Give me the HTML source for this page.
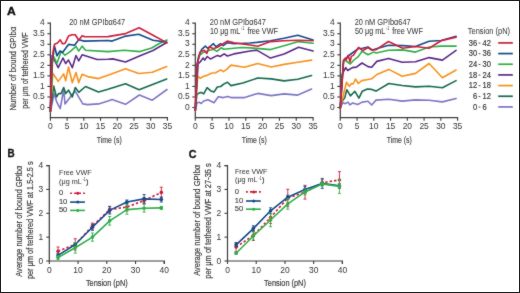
<!DOCTYPE html>
<html><head><meta charset="utf-8"><style>
html,body{margin:0;padding:0;background:#fff;overflow:hidden;}
svg{display:block;font-family:"Liberation Sans", sans-serif;will-change:transform;}
</style></head><body>
<svg width="520" height="293" viewBox="0 0 520 293">
<defs><filter id="soft" x="-2%" y="-2%" width="104%" height="104%"><feConvolveMatrix order="3" kernelMatrix="0.025 0.05 0.025 0.05 0.7 0.05 0.025 0.05 0.025" preserveAlpha="false"/></filter></defs>
<rect x="0" y="0" width="520" height="293" fill="#fff"/>
<g filter="url(#soft)">
<path d="M47.4,23.22 H50.4 V117.6 H167.4 V120.8" fill="none" stroke="#3c3c3c" stroke-width="1.2"/>
<line x1="47.4" y1="107.50" x2="50.4" y2="107.50" stroke="#3c3c3c" stroke-width="1.1"/>
<line x1="47.4" y1="96.97" x2="50.4" y2="96.97" stroke="#3c3c3c" stroke-width="1.1"/>
<line x1="47.4" y1="86.43" x2="50.4" y2="86.43" stroke="#3c3c3c" stroke-width="1.1"/>
<line x1="47.4" y1="75.89" x2="50.4" y2="75.89" stroke="#3c3c3c" stroke-width="1.1"/>
<line x1="47.4" y1="65.36" x2="50.4" y2="65.36" stroke="#3c3c3c" stroke-width="1.1"/>
<line x1="47.4" y1="54.83" x2="50.4" y2="54.83" stroke="#3c3c3c" stroke-width="1.1"/>
<line x1="47.4" y1="44.29" x2="50.4" y2="44.29" stroke="#3c3c3c" stroke-width="1.1"/>
<line x1="47.4" y1="33.75" x2="50.4" y2="33.75" stroke="#3c3c3c" stroke-width="1.1"/>
<g transform="translate(44.699999999999996,109.7) scale(0.97,1)"><text x="0" y="0" font-size="8.7" text-anchor="end" fill="#3c3c3c" font-weight="normal" stroke="#3c3c3c" stroke-width="0.04" >0</text></g>
<g transform="translate(44.699999999999996,99.165) scale(0.97,1)"><text x="0" y="0" font-size="8.7" text-anchor="end" fill="#3c3c3c" font-weight="normal" stroke="#3c3c3c" stroke-width="0.04" >0.5</text></g>
<g transform="translate(44.699999999999996,88.63000000000001) scale(0.97,1)"><text x="0" y="0" font-size="8.7" text-anchor="end" fill="#3c3c3c" font-weight="normal" stroke="#3c3c3c" stroke-width="0.04" >1</text></g>
<g transform="translate(44.699999999999996,78.095) scale(0.97,1)"><text x="0" y="0" font-size="8.7" text-anchor="end" fill="#3c3c3c" font-weight="normal" stroke="#3c3c3c" stroke-width="0.04" >1.5</text></g>
<g transform="translate(44.699999999999996,67.56) scale(0.97,1)"><text x="0" y="0" font-size="8.7" text-anchor="end" fill="#3c3c3c" font-weight="normal" stroke="#3c3c3c" stroke-width="0.04" >2</text></g>
<g transform="translate(44.699999999999996,57.025000000000006) scale(0.97,1)"><text x="0" y="0" font-size="8.7" text-anchor="end" fill="#3c3c3c" font-weight="normal" stroke="#3c3c3c" stroke-width="0.04" >2.5</text></g>
<g transform="translate(44.699999999999996,46.49) scale(0.97,1)"><text x="0" y="0" font-size="8.7" text-anchor="end" fill="#3c3c3c" font-weight="normal" stroke="#3c3c3c" stroke-width="0.04" >3</text></g>
<g transform="translate(44.699999999999996,35.955) scale(0.97,1)"><text x="0" y="0" font-size="8.7" text-anchor="end" fill="#3c3c3c" font-weight="normal" stroke="#3c3c3c" stroke-width="0.04" >3.5</text></g>
<g transform="translate(44.699999999999996,25.419999999999998) scale(0.97,1)"><text x="0" y="0" font-size="8.7" text-anchor="end" fill="#3c3c3c" font-weight="normal" stroke="#3c3c3c" stroke-width="0.04" >4</text></g>
<line x1="50.40" y1="117.6" x2="50.40" y2="120.8" stroke="#3c3c3c" stroke-width="1.1"/>
<line x1="67.11" y1="117.6" x2="67.11" y2="120.8" stroke="#3c3c3c" stroke-width="1.1"/>
<line x1="83.83" y1="117.6" x2="83.83" y2="120.8" stroke="#3c3c3c" stroke-width="1.1"/>
<line x1="100.54" y1="117.6" x2="100.54" y2="120.8" stroke="#3c3c3c" stroke-width="1.1"/>
<line x1="117.26" y1="117.6" x2="117.26" y2="120.8" stroke="#3c3c3c" stroke-width="1.1"/>
<line x1="133.97" y1="117.6" x2="133.97" y2="120.8" stroke="#3c3c3c" stroke-width="1.1"/>
<line x1="150.69" y1="117.6" x2="150.69" y2="120.8" stroke="#3c3c3c" stroke-width="1.1"/>
<g transform="translate(50.4,129.4) scale(0.97,1)"><text x="0" y="0" font-size="8.7" text-anchor="middle" fill="#3c3c3c" font-weight="normal" stroke="#3c3c3c" stroke-width="0.04" >0</text></g>
<g transform="translate(67.11428571428571,129.4) scale(0.97,1)"><text x="0" y="0" font-size="8.7" text-anchor="middle" fill="#3c3c3c" font-weight="normal" stroke="#3c3c3c" stroke-width="0.04" >5</text></g>
<g transform="translate(83.82857142857142,129.4) scale(0.97,1)"><text x="0" y="0" font-size="8.7" text-anchor="middle" fill="#3c3c3c" font-weight="normal" stroke="#3c3c3c" stroke-width="0.04" >10</text></g>
<g transform="translate(100.54285714285714,129.4) scale(0.97,1)"><text x="0" y="0" font-size="8.7" text-anchor="middle" fill="#3c3c3c" font-weight="normal" stroke="#3c3c3c" stroke-width="0.04" >15</text></g>
<g transform="translate(117.25714285714287,129.4) scale(0.97,1)"><text x="0" y="0" font-size="8.7" text-anchor="middle" fill="#3c3c3c" font-weight="normal" stroke="#3c3c3c" stroke-width="0.04" >20</text></g>
<g transform="translate(133.97142857142856,129.4) scale(0.97,1)"><text x="0" y="0" font-size="8.7" text-anchor="middle" fill="#3c3c3c" font-weight="normal" stroke="#3c3c3c" stroke-width="0.04" >25</text></g>
<g transform="translate(150.68571428571428,129.4) scale(0.97,1)"><text x="0" y="0" font-size="8.7" text-anchor="middle" fill="#3c3c3c" font-weight="normal" stroke="#3c3c3c" stroke-width="0.04" >30</text></g>
<g transform="translate(167.4,129.4) scale(0.97,1)"><text x="0" y="0" font-size="8.7" text-anchor="middle" fill="#3c3c3c" font-weight="normal" stroke="#3c3c3c" stroke-width="0.04" >35</text></g>
<text x="109.3" y="142.6" font-size="9.8" text-anchor="middle" fill="#3c3c3c" font-weight="normal" textLength="25.0" lengthAdjust="spacingAndGlyphs" stroke="#3c3c3c" stroke-width="0.15" >Time (s)</text>
<path d="M192.3,23.22 H195.3 V117.6 H313.1 V120.8" fill="none" stroke="#3c3c3c" stroke-width="1.2"/>
<line x1="192.3" y1="107.50" x2="195.3" y2="107.50" stroke="#3c3c3c" stroke-width="1.1"/>
<line x1="192.3" y1="96.97" x2="195.3" y2="96.97" stroke="#3c3c3c" stroke-width="1.1"/>
<line x1="192.3" y1="86.43" x2="195.3" y2="86.43" stroke="#3c3c3c" stroke-width="1.1"/>
<line x1="192.3" y1="75.89" x2="195.3" y2="75.89" stroke="#3c3c3c" stroke-width="1.1"/>
<line x1="192.3" y1="65.36" x2="195.3" y2="65.36" stroke="#3c3c3c" stroke-width="1.1"/>
<line x1="192.3" y1="54.83" x2="195.3" y2="54.83" stroke="#3c3c3c" stroke-width="1.1"/>
<line x1="192.3" y1="44.29" x2="195.3" y2="44.29" stroke="#3c3c3c" stroke-width="1.1"/>
<line x1="192.3" y1="33.75" x2="195.3" y2="33.75" stroke="#3c3c3c" stroke-width="1.1"/>
<g transform="translate(189.60000000000002,109.7) scale(0.97,1)"><text x="0" y="0" font-size="8.7" text-anchor="end" fill="#3c3c3c" font-weight="normal" stroke="#3c3c3c" stroke-width="0.04" >0</text></g>
<g transform="translate(189.60000000000002,99.165) scale(0.97,1)"><text x="0" y="0" font-size="8.7" text-anchor="end" fill="#3c3c3c" font-weight="normal" stroke="#3c3c3c" stroke-width="0.04" >0.5</text></g>
<g transform="translate(189.60000000000002,88.63000000000001) scale(0.97,1)"><text x="0" y="0" font-size="8.7" text-anchor="end" fill="#3c3c3c" font-weight="normal" stroke="#3c3c3c" stroke-width="0.04" >1</text></g>
<g transform="translate(189.60000000000002,78.095) scale(0.97,1)"><text x="0" y="0" font-size="8.7" text-anchor="end" fill="#3c3c3c" font-weight="normal" stroke="#3c3c3c" stroke-width="0.04" >1.5</text></g>
<g transform="translate(189.60000000000002,67.56) scale(0.97,1)"><text x="0" y="0" font-size="8.7" text-anchor="end" fill="#3c3c3c" font-weight="normal" stroke="#3c3c3c" stroke-width="0.04" >2</text></g>
<g transform="translate(189.60000000000002,57.025000000000006) scale(0.97,1)"><text x="0" y="0" font-size="8.7" text-anchor="end" fill="#3c3c3c" font-weight="normal" stroke="#3c3c3c" stroke-width="0.04" >2.5</text></g>
<g transform="translate(189.60000000000002,46.49) scale(0.97,1)"><text x="0" y="0" font-size="8.7" text-anchor="end" fill="#3c3c3c" font-weight="normal" stroke="#3c3c3c" stroke-width="0.04" >3</text></g>
<g transform="translate(189.60000000000002,35.955) scale(0.97,1)"><text x="0" y="0" font-size="8.7" text-anchor="end" fill="#3c3c3c" font-weight="normal" stroke="#3c3c3c" stroke-width="0.04" >3.5</text></g>
<g transform="translate(189.60000000000002,25.419999999999998) scale(0.97,1)"><text x="0" y="0" font-size="8.7" text-anchor="end" fill="#3c3c3c" font-weight="normal" stroke="#3c3c3c" stroke-width="0.04" >4</text></g>
<line x1="195.30" y1="117.6" x2="195.30" y2="120.8" stroke="#3c3c3c" stroke-width="1.1"/>
<line x1="212.13" y1="117.6" x2="212.13" y2="120.8" stroke="#3c3c3c" stroke-width="1.1"/>
<line x1="228.96" y1="117.6" x2="228.96" y2="120.8" stroke="#3c3c3c" stroke-width="1.1"/>
<line x1="245.79" y1="117.6" x2="245.79" y2="120.8" stroke="#3c3c3c" stroke-width="1.1"/>
<line x1="262.61" y1="117.6" x2="262.61" y2="120.8" stroke="#3c3c3c" stroke-width="1.1"/>
<line x1="279.44" y1="117.6" x2="279.44" y2="120.8" stroke="#3c3c3c" stroke-width="1.1"/>
<line x1="296.27" y1="117.6" x2="296.27" y2="120.8" stroke="#3c3c3c" stroke-width="1.1"/>
<g transform="translate(195.3,129.4) scale(0.97,1)"><text x="0" y="0" font-size="8.7" text-anchor="middle" fill="#3c3c3c" font-weight="normal" stroke="#3c3c3c" stroke-width="0.04" >0</text></g>
<g transform="translate(212.12857142857143,129.4) scale(0.97,1)"><text x="0" y="0" font-size="8.7" text-anchor="middle" fill="#3c3c3c" font-weight="normal" stroke="#3c3c3c" stroke-width="0.04" >5</text></g>
<g transform="translate(228.95714285714286,129.4) scale(0.97,1)"><text x="0" y="0" font-size="8.7" text-anchor="middle" fill="#3c3c3c" font-weight="normal" stroke="#3c3c3c" stroke-width="0.04" >10</text></g>
<g transform="translate(245.7857142857143,129.4) scale(0.97,1)"><text x="0" y="0" font-size="8.7" text-anchor="middle" fill="#3c3c3c" font-weight="normal" stroke="#3c3c3c" stroke-width="0.04" >15</text></g>
<g transform="translate(262.61428571428576,129.4) scale(0.97,1)"><text x="0" y="0" font-size="8.7" text-anchor="middle" fill="#3c3c3c" font-weight="normal" stroke="#3c3c3c" stroke-width="0.04" >20</text></g>
<g transform="translate(279.4428571428572,129.4) scale(0.97,1)"><text x="0" y="0" font-size="8.7" text-anchor="middle" fill="#3c3c3c" font-weight="normal" stroke="#3c3c3c" stroke-width="0.04" >25</text></g>
<g transform="translate(296.2714285714286,129.4) scale(0.97,1)"><text x="0" y="0" font-size="8.7" text-anchor="middle" fill="#3c3c3c" font-weight="normal" stroke="#3c3c3c" stroke-width="0.04" >30</text></g>
<g transform="translate(313.1,129.4) scale(0.97,1)"><text x="0" y="0" font-size="8.7" text-anchor="middle" fill="#3c3c3c" font-weight="normal" stroke="#3c3c3c" stroke-width="0.04" >35</text></g>
<text x="254.20000000000002" y="142.6" font-size="9.8" text-anchor="middle" fill="#3c3c3c" font-weight="normal" textLength="25.0" lengthAdjust="spacingAndGlyphs" stroke="#3c3c3c" stroke-width="0.15" >Time (s)</text>
<path d="M337.3,23.22 H340.3 V117.6 H457.6 V120.8" fill="none" stroke="#3c3c3c" stroke-width="1.2"/>
<line x1="337.3" y1="107.50" x2="340.3" y2="107.50" stroke="#3c3c3c" stroke-width="1.1"/>
<line x1="337.3" y1="96.97" x2="340.3" y2="96.97" stroke="#3c3c3c" stroke-width="1.1"/>
<line x1="337.3" y1="86.43" x2="340.3" y2="86.43" stroke="#3c3c3c" stroke-width="1.1"/>
<line x1="337.3" y1="75.89" x2="340.3" y2="75.89" stroke="#3c3c3c" stroke-width="1.1"/>
<line x1="337.3" y1="65.36" x2="340.3" y2="65.36" stroke="#3c3c3c" stroke-width="1.1"/>
<line x1="337.3" y1="54.83" x2="340.3" y2="54.83" stroke="#3c3c3c" stroke-width="1.1"/>
<line x1="337.3" y1="44.29" x2="340.3" y2="44.29" stroke="#3c3c3c" stroke-width="1.1"/>
<line x1="337.3" y1="33.75" x2="340.3" y2="33.75" stroke="#3c3c3c" stroke-width="1.1"/>
<g transform="translate(334.6,109.7) scale(0.97,1)"><text x="0" y="0" font-size="8.7" text-anchor="end" fill="#3c3c3c" font-weight="normal" stroke="#3c3c3c" stroke-width="0.04" >0</text></g>
<g transform="translate(334.6,99.165) scale(0.97,1)"><text x="0" y="0" font-size="8.7" text-anchor="end" fill="#3c3c3c" font-weight="normal" stroke="#3c3c3c" stroke-width="0.04" >0.5</text></g>
<g transform="translate(334.6,88.63000000000001) scale(0.97,1)"><text x="0" y="0" font-size="8.7" text-anchor="end" fill="#3c3c3c" font-weight="normal" stroke="#3c3c3c" stroke-width="0.04" >1</text></g>
<g transform="translate(334.6,78.095) scale(0.97,1)"><text x="0" y="0" font-size="8.7" text-anchor="end" fill="#3c3c3c" font-weight="normal" stroke="#3c3c3c" stroke-width="0.04" >1.5</text></g>
<g transform="translate(334.6,67.56) scale(0.97,1)"><text x="0" y="0" font-size="8.7" text-anchor="end" fill="#3c3c3c" font-weight="normal" stroke="#3c3c3c" stroke-width="0.04" >2</text></g>
<g transform="translate(334.6,57.025000000000006) scale(0.97,1)"><text x="0" y="0" font-size="8.7" text-anchor="end" fill="#3c3c3c" font-weight="normal" stroke="#3c3c3c" stroke-width="0.04" >2.5</text></g>
<g transform="translate(334.6,46.49) scale(0.97,1)"><text x="0" y="0" font-size="8.7" text-anchor="end" fill="#3c3c3c" font-weight="normal" stroke="#3c3c3c" stroke-width="0.04" >3</text></g>
<g transform="translate(334.6,35.955) scale(0.97,1)"><text x="0" y="0" font-size="8.7" text-anchor="end" fill="#3c3c3c" font-weight="normal" stroke="#3c3c3c" stroke-width="0.04" >3.5</text></g>
<g transform="translate(334.6,25.419999999999998) scale(0.97,1)"><text x="0" y="0" font-size="8.7" text-anchor="end" fill="#3c3c3c" font-weight="normal" stroke="#3c3c3c" stroke-width="0.04" >4</text></g>
<line x1="340.30" y1="117.6" x2="340.30" y2="120.8" stroke="#3c3c3c" stroke-width="1.1"/>
<line x1="357.06" y1="117.6" x2="357.06" y2="120.8" stroke="#3c3c3c" stroke-width="1.1"/>
<line x1="373.81" y1="117.6" x2="373.81" y2="120.8" stroke="#3c3c3c" stroke-width="1.1"/>
<line x1="390.57" y1="117.6" x2="390.57" y2="120.8" stroke="#3c3c3c" stroke-width="1.1"/>
<line x1="407.33" y1="117.6" x2="407.33" y2="120.8" stroke="#3c3c3c" stroke-width="1.1"/>
<line x1="424.09" y1="117.6" x2="424.09" y2="120.8" stroke="#3c3c3c" stroke-width="1.1"/>
<line x1="440.84" y1="117.6" x2="440.84" y2="120.8" stroke="#3c3c3c" stroke-width="1.1"/>
<g transform="translate(340.3,129.4) scale(0.97,1)"><text x="0" y="0" font-size="8.7" text-anchor="middle" fill="#3c3c3c" font-weight="normal" stroke="#3c3c3c" stroke-width="0.04" >0</text></g>
<g transform="translate(357.0571428571429,129.4) scale(0.97,1)"><text x="0" y="0" font-size="8.7" text-anchor="middle" fill="#3c3c3c" font-weight="normal" stroke="#3c3c3c" stroke-width="0.04" >5</text></g>
<g transform="translate(373.81428571428575,129.4) scale(0.97,1)"><text x="0" y="0" font-size="8.7" text-anchor="middle" fill="#3c3c3c" font-weight="normal" stroke="#3c3c3c" stroke-width="0.04" >10</text></g>
<g transform="translate(390.5714285714286,129.4) scale(0.97,1)"><text x="0" y="0" font-size="8.7" text-anchor="middle" fill="#3c3c3c" font-weight="normal" stroke="#3c3c3c" stroke-width="0.04" >15</text></g>
<g transform="translate(407.3285714285714,129.4) scale(0.97,1)"><text x="0" y="0" font-size="8.7" text-anchor="middle" fill="#3c3c3c" font-weight="normal" stroke="#3c3c3c" stroke-width="0.04" >20</text></g>
<g transform="translate(424.0857142857143,129.4) scale(0.97,1)"><text x="0" y="0" font-size="8.7" text-anchor="middle" fill="#3c3c3c" font-weight="normal" stroke="#3c3c3c" stroke-width="0.04" >25</text></g>
<g transform="translate(440.84285714285716,129.4) scale(0.97,1)"><text x="0" y="0" font-size="8.7" text-anchor="middle" fill="#3c3c3c" font-weight="normal" stroke="#3c3c3c" stroke-width="0.04" >30</text></g>
<g transform="translate(457.6,129.4) scale(0.97,1)"><text x="0" y="0" font-size="8.7" text-anchor="middle" fill="#3c3c3c" font-weight="normal" stroke="#3c3c3c" stroke-width="0.04" >35</text></g>
<text x="399.2" y="142.6" font-size="9.8" text-anchor="middle" fill="#3c3c3c" font-weight="normal" textLength="25.0" lengthAdjust="spacingAndGlyphs" stroke="#3c3c3c" stroke-width="0.15" >Time (s)</text>
<text x="69.2" y="25.3" font-size="8.6" text-anchor="start" fill="#3c3c3c" font-weight="normal" textLength="56.0" lengthAdjust="spacingAndGlyphs" stroke="#3c3c3c" stroke-width="0.05" >20 nM GPIbα647</text>
<text x="209.8" y="25.3" font-size="8.6" text-anchor="start" fill="#3c3c3c" font-weight="normal" textLength="56.0" lengthAdjust="spacingAndGlyphs" stroke="#3c3c3c" stroke-width="0.05" >20 nM GPIbα647</text>
<text x="210.10000000000002" y="34.1" font-size="8.4" text-anchor="start" fill="#3c3c3c" font-weight="normal" textLength="30.3" lengthAdjust="spacingAndGlyphs" stroke="#3c3c3c" stroke-width="0.08" >10 μg mL</text>
<text x="241.0" y="30.2" font-size="5.0" text-anchor="start" fill="#3c3c3c" font-weight="normal" textLength="3.3" lengthAdjust="spacingAndGlyphs" >-1</text>
<text x="247.4" y="34.1" font-size="8.4" text-anchor="start" fill="#3c3c3c" font-weight="normal" textLength="30.5" lengthAdjust="spacingAndGlyphs" stroke="#3c3c3c" stroke-width="0.08" >free VWF</text>
<text x="354.7" y="25.3" font-size="8.6" text-anchor="start" fill="#3c3c3c" font-weight="normal" textLength="56.0" lengthAdjust="spacingAndGlyphs" stroke="#3c3c3c" stroke-width="0.05" >20 nM GPIbα647</text>
<text x="355.0" y="34.1" font-size="8.4" text-anchor="start" fill="#3c3c3c" font-weight="normal" textLength="30.3" lengthAdjust="spacingAndGlyphs" stroke="#3c3c3c" stroke-width="0.08" >50 μg mL</text>
<text x="385.9" y="30.2" font-size="5.0" text-anchor="start" fill="#3c3c3c" font-weight="normal" textLength="3.3" lengthAdjust="spacingAndGlyphs" >-1</text>
<text x="392.3" y="34.1" font-size="8.4" text-anchor="start" fill="#3c3c3c" font-weight="normal" textLength="30.5" lengthAdjust="spacingAndGlyphs" stroke="#3c3c3c" stroke-width="0.08" >free VWF</text>
<g transform="translate(6.9,14.7) scale(1.12,1)"><text x="0" y="0" font-size="10.8" text-anchor="start" fill="#111" font-weight="bold" stroke="#111" stroke-width="0.35" >A</text></g>
<g transform="translate(7.4,156.8) scale(0.95,1)"><text x="0" y="0" font-size="10.4" text-anchor="start" fill="#111" font-weight="bold" stroke="#111" stroke-width="0.3" >B</text></g>
<g transform="translate(188.7,157.5) scale(1.03,1)"><text x="0" y="0" font-size="10.4" text-anchor="start" fill="#111" font-weight="bold" stroke="#111" stroke-width="0.3" >C</text></g>
<polyline points="50.4,111.5 54.1,93.6 56.7,101.8 60.2,108.6 63.7,89.5 65.0,103.9 75.0,90.9 82.8,103.9 87.6,104.6 98.5,103.9 108.0,101.1 112.1,99.5 125.5,104.3 139.4,95.0 152.3,100.2 167.0,89.5" fill="none" stroke="#7d76c7" stroke-width="1.6" stroke-linejoin="round" stroke-linecap="round" />
<polyline points="50.4,111.5 53.7,86.1 56.5,97.0 58.6,93.6 61.0,93.6 63.7,87.5 65.7,93.6 68.5,90.2 72.3,97.0 75.3,87.5 78.7,92.3 85.5,86.5 98.5,92.0 108.0,89.3 125.5,83.8 139.1,89.8 166.7,79.0" fill="none" stroke="#156a4d" stroke-width="1.6" stroke-linejoin="round" stroke-linecap="round" />
<polyline points="50.4,111.5 52.8,73.2 58.2,81.4 63.7,73.9 65.7,80.7 68.5,67.0 72.3,82.7 76.0,72.5 78.7,82.7 82.1,74.3 87.6,76.6 98.5,78.6 108.0,75.2 125.5,68.8 138.7,73.5 152.3,72.2 166.7,66.5" fill="none" stroke="#f7921e" stroke-width="1.6" stroke-linejoin="round" stroke-linecap="round" />
<polyline points="50.4,111.5 52.1,55.5 58.2,67.7 63.0,58.0 65.7,63.6 68.5,60.0 72.3,67.7 76.0,55.5 78.7,60.9 82.1,54.8 97.1,59.5 108.0,59.3 112.8,58.9 125.5,62.0 140.7,55.5 153.0,50.5 166.7,42.5" fill="none" stroke="#5a2b87" stroke-width="1.6" stroke-linejoin="round" stroke-linecap="round" />
<polyline points="50.4,111.5 52.5,62.0 54.0,57.0 56.9,63.4 61.0,51.8 62.3,52.5 65.0,55.2 69.8,51.8 76.0,46.4 78.7,51.1 82.1,46.1 85.5,50.2 108.0,51.6 124.4,50.3 140.0,51.6 151.7,48.0 159.8,43.2 167.0,40.0" fill="none" stroke="#2fae49" stroke-width="1.6" stroke-linejoin="round" stroke-linecap="round" />
<polyline points="50.4,111.5 52.0,65.0 54.5,46.0 56.9,55.8 60.0,51.0 62.5,52.5 68.5,44.4 74.6,45.2 78.7,39.8 84.2,41.1 108.0,40.5 112.1,41.1 125.7,36.1 138.7,34.3 153.0,40.2 166.7,42.1" fill="none" stroke="#124b88" stroke-width="1.6" stroke-linejoin="round" stroke-linecap="round" />
<polyline points="50.4,111.5 51.5,70.0 53.0,52.0 54.5,44.3 57.5,43.0 60.3,39.8 62.3,43.6 65.0,43.4 68.5,36.1 71.9,34.8 75.3,34.8 78.7,40.2 82.1,35.7 84.8,36.8 108.0,36.6 125.7,33.6 139.1,27.8 153.0,35.3 167.0,42.9" fill="none" stroke="#cc1f3a" stroke-width="1.6" stroke-linejoin="round" stroke-linecap="round" />
<polyline points="195.3,110.5 197.0,102.7 199.4,102.3 201.2,103.5 203.8,101.0 208.0,99.8 214.0,102.7 218.3,96.7 223.4,97.6 227.7,96.4 231.0,97.6 244.7,97.6 257.7,93.4 271.3,95.6 284.1,93.9 297.8,95.1 311.6,89.1" fill="none" stroke="#7d76c7" stroke-width="1.6" stroke-linejoin="round" stroke-linecap="round" />
<polyline points="195.3,110.5 196.8,95.0 198.5,93.3 201.1,92.4 203.7,93.8 207.1,87.6 210.5,90.7 213.9,92.1 217.3,87.0 220.7,86.5 224.1,83.9 227.5,82.2 231.0,85.6 242.9,83.0 257.7,78.0 271.3,78.9 284.1,80.9 297.8,79.2 311.6,75.5" fill="none" stroke="#156a4d" stroke-width="1.6" stroke-linejoin="round" stroke-linecap="round" />
<polyline points="195.3,110.5 197.7,76.2 200.2,78.4 203.7,76.2 207.1,75.4 211.3,73.3 215.6,72.8 220.7,69.9 223.3,71.6 226.7,69.4 231.0,65.1 244.6,67.2 257.7,63.5 271.3,67.0 284.1,64.4 297.8,62.2 311.6,60.1" fill="none" stroke="#f7921e" stroke-width="1.6" stroke-linejoin="round" stroke-linecap="round" />
<polyline points="195.3,110.5 198.1,63.6 200.1,62.1 203.2,58.0 204.7,60.1 207.3,56.5 210.4,59.0 217.5,55.4 220.1,56.5 224.2,53.9 227.3,56.0 234.0,53.9 250.0,51.0 256.8,50.1 270.5,58.1 284.1,54.0 298.6,47.2 313.1,51.0" fill="none" stroke="#5a2b87" stroke-width="1.6" stroke-linejoin="round" stroke-linecap="round" />
<polyline points="195.3,110.5 197.5,62.0 199.6,55.4 203.2,52.4 209.4,50.3 213.4,49.3 217.0,51.4 221.1,47.8 223.7,49.3 234.0,48.3 241.4,47.5 250.0,47.9 256.8,48.4 270.5,49.6 284.1,45.8 298.6,41.6 313.1,43.3" fill="none" stroke="#2fae49" stroke-width="1.6" stroke-linejoin="round" stroke-linecap="round" />
<polyline points="195.3,110.5 197.3,64.0 198.6,56.5 201.7,49.3 205.3,46.2 207.8,48.3 213.4,43.7 216.0,46.7 220.6,43.7 223.2,45.7 227.3,42.7 234.0,43.7 250.0,43.0 256.8,42.4 270.5,40.7 284.1,38.2 297.8,35.3 313.1,39.9" fill="none" stroke="#124b88" stroke-width="1.6" stroke-linejoin="round" stroke-linecap="round" />
<polyline points="195.3,110.5 197.1,64.7 200.1,51.9 204.2,50.3 206.8,53.4 209.4,46.7 213.4,48.8 217.5,47.3 227.3,41.1 234.0,42.7 250.0,45.0 257.7,46.2 270.5,41.6 284.1,40.7 297.8,40.2 313.1,40.7" fill="none" stroke="#cc1f3a" stroke-width="1.6" stroke-linejoin="round" stroke-linecap="round" />
<polyline points="340.3,108.2 341.4,105.4 343.1,102.6 344.8,103.7 348.1,102.1 349.8,104.9 352.7,103.0 357.7,104.5 362.2,102.1 368.0,101.2 371.7,105.0 376.0,100.1 388.8,99.2 402.2,101.1 415.5,99.9 429.1,100.2 442.4,101.9 456.1,98.5" fill="none" stroke="#7d76c7" stroke-width="1.6" stroke-linejoin="round" stroke-linecap="round" />
<polyline points="340.3,108.2 341.4,102.6 344.8,97.5 346.8,89.7 350.4,95.9 354.9,91.3 358.9,98.1 362.2,91.3 367.4,89.0 371.7,89.4 376.0,91.1 388.8,83.5 402.2,85.5 415.5,86.9 429.1,86.2 442.4,87.8 456.1,80.6" fill="none" stroke="#156a4d" stroke-width="1.6" stroke-linejoin="round" stroke-linecap="round" />
<polyline points="340.3,107.5 346.5,82.3 349.3,86.3 351.5,83.5 353.2,84.0 355.5,79.0 358.3,83.5 361.7,80.6 368.0,79.5 371.7,78.8 376.8,74.5 388.8,69.4 402.2,76.3 415.5,73.4 429.1,63.5 442.4,77.7 456.1,70.0" fill="none" stroke="#f7921e" stroke-width="1.6" stroke-linejoin="round" stroke-linecap="round" />
<polyline points="340.3,108.2 342.1,74.6 344.1,70.5 345.7,67.6 347.7,70.5 352.3,67.6 356.4,67.1 362.0,63.0 368.0,66.6 371.7,67.2 376.8,61.4 388.5,58.5 402.2,62.2 415.5,61.8 429.1,57.6 442.4,60.1 456.1,50.4" fill="none" stroke="#5a2b87" stroke-width="1.6" stroke-linejoin="round" stroke-linecap="round" />
<polyline points="340.3,108.2 343.5,61.0 345.7,60.5 350.3,64.0 353.4,60.5 358.5,56.4 362.0,51.3 368.0,54.8 373.5,52.1 376.2,53.0 388.5,50.3 402.7,49.9 415.5,52.1 429.1,47.0 441.1,46.1 456.1,46.1" fill="none" stroke="#2fae49" stroke-width="1.6" stroke-linejoin="round" stroke-linecap="round" />
<polyline points="340.3,108.2 343.6,60.5 345.2,58.8 348.2,56.0 352.3,53.0 358.5,48.5 362.6,48.3 368.0,47.0 372.1,50.0 388.5,45.2 402.7,45.6 415.5,46.5 429.1,41.3 441.1,40.5 456.1,36.2" fill="none" stroke="#124b88" stroke-width="1.6" stroke-linejoin="round" stroke-linecap="round" />
<polyline points="340.3,108.2 343.6,60.0 345.2,58.4 346.2,60.0 348.2,55.4 350.1,62.0 351.3,56.4 353.4,55.4 358.5,47.4 362.6,50.7 368.0,47.5 372.1,50.3 376.2,49.7 388.5,41.5 402.7,48.2 415.5,46.5 429.1,48.2 441.1,40.8 456.1,37.1" fill="none" stroke="#cc1f3a" stroke-width="1.6" stroke-linejoin="round" stroke-linecap="round" />
<text x="467.8" y="33.8" font-size="8.3" text-anchor="start" fill="#3c3c3c" font-weight="normal" textLength="42.2" lengthAdjust="spacingAndGlyphs" stroke="#3c3c3c" stroke-width="0.05" >Tension (pN)</text>
<g transform="translate(477.1,45.5) scale(0.9,1)"><text x="0" y="0" font-size="8.4" text-anchor="end" fill="#3c3c3c" font-weight="normal" stroke="#3c3c3c" stroke-width="0.2" >36</text></g>
<rect x="478.6" y="42.60" width="1.8" height="0.9" fill="#3c3c3c"/>
<g transform="translate(482.6,45.5) scale(0.9,1)"><text x="0" y="0" font-size="8.4" text-anchor="start" fill="#3c3c3c" font-weight="normal" stroke="#3c3c3c" stroke-width="0.2" >42</text></g>
<line x1="498.2" y1="42.90" x2="512.8" y2="42.90" stroke="#cc1f3a" stroke-width="1.7"/>
<g transform="translate(477.1,56.17) scale(0.9,1)"><text x="0" y="0" font-size="8.4" text-anchor="end" fill="#3c3c3c" font-weight="normal" stroke="#3c3c3c" stroke-width="0.2" >30</text></g>
<rect x="478.6" y="53.27" width="1.8" height="0.9" fill="#3c3c3c"/>
<g transform="translate(482.6,56.17) scale(0.9,1)"><text x="0" y="0" font-size="8.4" text-anchor="start" fill="#3c3c3c" font-weight="normal" stroke="#3c3c3c" stroke-width="0.2" >36</text></g>
<line x1="498.2" y1="53.57" x2="512.8" y2="53.57" stroke="#124b88" stroke-width="1.7"/>
<g transform="translate(477.1,66.83999999999999) scale(0.9,1)"><text x="0" y="0" font-size="8.4" text-anchor="end" fill="#3c3c3c" font-weight="normal" stroke="#3c3c3c" stroke-width="0.2" >24</text></g>
<rect x="478.6" y="63.94" width="1.8" height="0.9" fill="#3c3c3c"/>
<g transform="translate(482.6,66.83999999999999) scale(0.9,1)"><text x="0" y="0" font-size="8.4" text-anchor="start" fill="#3c3c3c" font-weight="normal" stroke="#3c3c3c" stroke-width="0.2" >30</text></g>
<line x1="498.2" y1="64.24" x2="512.8" y2="64.24" stroke="#2fae49" stroke-width="1.7"/>
<g transform="translate(477.1,77.50999999999999) scale(0.9,1)"><text x="0" y="0" font-size="8.4" text-anchor="end" fill="#3c3c3c" font-weight="normal" stroke="#3c3c3c" stroke-width="0.2" >18</text></g>
<rect x="478.6" y="74.61" width="1.8" height="0.9" fill="#3c3c3c"/>
<g transform="translate(482.6,77.50999999999999) scale(0.9,1)"><text x="0" y="0" font-size="8.4" text-anchor="start" fill="#3c3c3c" font-weight="normal" stroke="#3c3c3c" stroke-width="0.2" >24</text></g>
<line x1="498.2" y1="74.91" x2="512.8" y2="74.91" stroke="#5a2b87" stroke-width="1.7"/>
<g transform="translate(477.1,88.17999999999999) scale(0.9,1)"><text x="0" y="0" font-size="8.4" text-anchor="end" fill="#3c3c3c" font-weight="normal" stroke="#3c3c3c" stroke-width="0.2" >12</text></g>
<rect x="478.6" y="85.28" width="1.8" height="0.9" fill="#3c3c3c"/>
<g transform="translate(482.6,88.17999999999999) scale(0.9,1)"><text x="0" y="0" font-size="8.4" text-anchor="start" fill="#3c3c3c" font-weight="normal" stroke="#3c3c3c" stroke-width="0.2" >18</text></g>
<line x1="498.2" y1="85.58" x2="512.8" y2="85.58" stroke="#f7921e" stroke-width="1.7"/>
<g transform="translate(477.1,98.85) scale(0.9,1)"><text x="0" y="0" font-size="8.4" text-anchor="end" fill="#3c3c3c" font-weight="normal" stroke="#3c3c3c" stroke-width="0.2" >6</text></g>
<rect x="478.6" y="95.95" width="1.8" height="0.9" fill="#3c3c3c"/>
<g transform="translate(482.6,98.85) scale(0.9,1)"><text x="0" y="0" font-size="8.4" text-anchor="start" fill="#3c3c3c" font-weight="normal" stroke="#3c3c3c" stroke-width="0.2" >12</text></g>
<line x1="498.2" y1="96.25" x2="512.8" y2="96.25" stroke="#156a4d" stroke-width="1.7"/>
<g transform="translate(477.1,109.51999999999998) scale(0.9,1)"><text x="0" y="0" font-size="8.4" text-anchor="end" fill="#3c3c3c" font-weight="normal" stroke="#3c3c3c" stroke-width="0.2" >0</text></g>
<rect x="478.6" y="106.62" width="1.8" height="0.9" fill="#3c3c3c"/>
<g transform="translate(482.6,109.51999999999998) scale(0.9,1)"><text x="0" y="0" font-size="8.4" text-anchor="start" fill="#3c3c3c" font-weight="normal" stroke="#3c3c3c" stroke-width="0.2" >6</text></g>
<line x1="498.2" y1="106.92" x2="512.8" y2="106.92" stroke="#7d76c7" stroke-width="1.7"/>
<path d="M46.3,165.60 H49.3 V261.0 H164.3 V264.0" fill="none" stroke="#3c3c3c" stroke-width="1.2"/>
<line x1="46.3" y1="261.00" x2="49.3" y2="261.00" stroke="#3c3c3c" stroke-width="1.1"/>
<g transform="translate(43.099999999999994,263.5) scale(0.97,1)"><text x="0" y="0" font-size="8.7" text-anchor="end" fill="#3c3c3c" font-weight="normal" stroke="#3c3c3c" stroke-width="0.04" >0</text></g>
<line x1="46.3" y1="237.15" x2="49.3" y2="237.15" stroke="#3c3c3c" stroke-width="1.1"/>
<g transform="translate(43.099999999999994,239.65) scale(0.97,1)"><text x="0" y="0" font-size="8.7" text-anchor="end" fill="#3c3c3c" font-weight="normal" stroke="#3c3c3c" stroke-width="0.04" >1</text></g>
<line x1="46.3" y1="213.30" x2="49.3" y2="213.30" stroke="#3c3c3c" stroke-width="1.1"/>
<g transform="translate(43.099999999999994,215.8) scale(0.97,1)"><text x="0" y="0" font-size="8.7" text-anchor="end" fill="#3c3c3c" font-weight="normal" stroke="#3c3c3c" stroke-width="0.04" >2</text></g>
<line x1="46.3" y1="189.45" x2="49.3" y2="189.45" stroke="#3c3c3c" stroke-width="1.1"/>
<g transform="translate(43.099999999999994,191.95) scale(0.97,1)"><text x="0" y="0" font-size="8.7" text-anchor="end" fill="#3c3c3c" font-weight="normal" stroke="#3c3c3c" stroke-width="0.04" >3</text></g>
<line x1="46.3" y1="165.60" x2="49.3" y2="165.60" stroke="#3c3c3c" stroke-width="1.1"/>
<g transform="translate(43.099999999999994,168.1) scale(0.97,1)"><text x="0" y="0" font-size="8.7" text-anchor="end" fill="#3c3c3c" font-weight="normal" stroke="#3c3c3c" stroke-width="0.04" >4</text></g>
<line x1="49.30" y1="261.0" x2="49.30" y2="264.0" stroke="#3c3c3c" stroke-width="1.1"/>
<g transform="translate(49.3,273.0) scale(0.97,1)"><text x="0" y="0" font-size="8.7" text-anchor="middle" fill="#3c3c3c" font-weight="normal" stroke="#3c3c3c" stroke-width="0.04" >0</text></g>
<line x1="78.05" y1="261.0" x2="78.05" y2="264.0" stroke="#3c3c3c" stroke-width="1.1"/>
<g transform="translate(78.05,273.0) scale(0.97,1)"><text x="0" y="0" font-size="8.7" text-anchor="middle" fill="#3c3c3c" font-weight="normal" stroke="#3c3c3c" stroke-width="0.04" >10</text></g>
<line x1="106.80" y1="261.0" x2="106.80" y2="264.0" stroke="#3c3c3c" stroke-width="1.1"/>
<g transform="translate(106.80000000000001,273.0) scale(0.97,1)"><text x="0" y="0" font-size="8.7" text-anchor="middle" fill="#3c3c3c" font-weight="normal" stroke="#3c3c3c" stroke-width="0.04" >20</text></g>
<line x1="135.55" y1="261.0" x2="135.55" y2="264.0" stroke="#3c3c3c" stroke-width="1.1"/>
<g transform="translate(135.55,273.0) scale(0.97,1)"><text x="0" y="0" font-size="8.7" text-anchor="middle" fill="#3c3c3c" font-weight="normal" stroke="#3c3c3c" stroke-width="0.04" >30</text></g>
<line x1="164.30" y1="261.0" x2="164.30" y2="264.0" stroke="#3c3c3c" stroke-width="1.1"/>
<g transform="translate(164.3,273.0) scale(0.97,1)"><text x="0" y="0" font-size="8.7" text-anchor="middle" fill="#3c3c3c" font-weight="normal" stroke="#3c3c3c" stroke-width="0.04" >40</text></g>
<text x="106.8" y="286.4" font-size="9.6" text-anchor="middle" fill="#3c3c3c" font-weight="normal" textLength="41.8" lengthAdjust="spacingAndGlyphs" stroke="#3c3c3c" stroke-width="0.2" >Tension (pN)</text>
<path d="M224.5,165.60 H227.5 V261.0 H342.4 V264.0" fill="none" stroke="#3c3c3c" stroke-width="1.2"/>
<line x1="224.5" y1="261.00" x2="227.5" y2="261.00" stroke="#3c3c3c" stroke-width="1.1"/>
<g transform="translate(221.3,263.5) scale(0.97,1)"><text x="0" y="0" font-size="8.7" text-anchor="end" fill="#3c3c3c" font-weight="normal" stroke="#3c3c3c" stroke-width="0.04" >0</text></g>
<line x1="224.5" y1="237.15" x2="227.5" y2="237.15" stroke="#3c3c3c" stroke-width="1.1"/>
<g transform="translate(221.3,239.65) scale(0.97,1)"><text x="0" y="0" font-size="8.7" text-anchor="end" fill="#3c3c3c" font-weight="normal" stroke="#3c3c3c" stroke-width="0.04" >1</text></g>
<line x1="224.5" y1="213.30" x2="227.5" y2="213.30" stroke="#3c3c3c" stroke-width="1.1"/>
<g transform="translate(221.3,215.8) scale(0.97,1)"><text x="0" y="0" font-size="8.7" text-anchor="end" fill="#3c3c3c" font-weight="normal" stroke="#3c3c3c" stroke-width="0.04" >2</text></g>
<line x1="224.5" y1="189.45" x2="227.5" y2="189.45" stroke="#3c3c3c" stroke-width="1.1"/>
<g transform="translate(221.3,191.95) scale(0.97,1)"><text x="0" y="0" font-size="8.7" text-anchor="end" fill="#3c3c3c" font-weight="normal" stroke="#3c3c3c" stroke-width="0.04" >3</text></g>
<line x1="224.5" y1="165.60" x2="227.5" y2="165.60" stroke="#3c3c3c" stroke-width="1.1"/>
<g transform="translate(221.3,168.1) scale(0.97,1)"><text x="0" y="0" font-size="8.7" text-anchor="end" fill="#3c3c3c" font-weight="normal" stroke="#3c3c3c" stroke-width="0.04" >4</text></g>
<line x1="227.50" y1="261.0" x2="227.50" y2="264.0" stroke="#3c3c3c" stroke-width="1.1"/>
<g transform="translate(227.5,273.0) scale(0.97,1)"><text x="0" y="0" font-size="8.7" text-anchor="middle" fill="#3c3c3c" font-weight="normal" stroke="#3c3c3c" stroke-width="0.04" >0</text></g>
<line x1="256.23" y1="261.0" x2="256.23" y2="264.0" stroke="#3c3c3c" stroke-width="1.1"/>
<g transform="translate(256.225,273.0) scale(0.97,1)"><text x="0" y="0" font-size="8.7" text-anchor="middle" fill="#3c3c3c" font-weight="normal" stroke="#3c3c3c" stroke-width="0.04" >10</text></g>
<line x1="284.95" y1="261.0" x2="284.95" y2="264.0" stroke="#3c3c3c" stroke-width="1.1"/>
<g transform="translate(284.95,273.0) scale(0.97,1)"><text x="0" y="0" font-size="8.7" text-anchor="middle" fill="#3c3c3c" font-weight="normal" stroke="#3c3c3c" stroke-width="0.04" >20</text></g>
<line x1="313.67" y1="261.0" x2="313.67" y2="264.0" stroke="#3c3c3c" stroke-width="1.1"/>
<g transform="translate(313.67499999999995,273.0) scale(0.97,1)"><text x="0" y="0" font-size="8.7" text-anchor="middle" fill="#3c3c3c" font-weight="normal" stroke="#3c3c3c" stroke-width="0.04" >30</text></g>
<line x1="342.40" y1="261.0" x2="342.40" y2="264.0" stroke="#3c3c3c" stroke-width="1.1"/>
<g transform="translate(342.4,273.0) scale(0.97,1)"><text x="0" y="0" font-size="8.7" text-anchor="middle" fill="#3c3c3c" font-weight="normal" stroke="#3c3c3c" stroke-width="0.04" >40</text></g>
<text x="285.0" y="286.4" font-size="9.6" text-anchor="middle" fill="#3c3c3c" font-weight="normal" textLength="41.8" lengthAdjust="spacingAndGlyphs" stroke="#3c3c3c" stroke-width="0.2" >Tension (pN)</text>
<text x="59.1" y="175.2" font-size="7.4" text-anchor="start" fill="#3c3c3c" font-weight="normal" textLength="32.4" lengthAdjust="spacingAndGlyphs" stroke="#3c3c3c" stroke-width="0.06" >Free VWF</text>
<text x="59.1" y="183.6" font-size="7.4" text-anchor="start" fill="#3c3c3c" font-weight="normal" textLength="22.6" lengthAdjust="spacingAndGlyphs" stroke="#3c3c3c" stroke-width="0.06" >(μg mL</text>
<text x="82.6" y="180.79999999999998" font-size="4.6" text-anchor="start" fill="#3c3c3c" font-weight="normal" textLength="3.2" lengthAdjust="spacingAndGlyphs" >-1</text>
<text x="86.1" y="183.6" font-size="7.4" text-anchor="start" fill="#3c3c3c" font-weight="normal" stroke="#3c3c3c" stroke-width="0.2" >)</text>
<g transform="translate(58.9,195.2) scale(0.95,1)"><text x="0" y="0" font-size="8.0" text-anchor="start" fill="#3c3c3c" font-weight="normal" stroke="#3c3c3c" stroke-width="0.12" >0</text></g>
<line x1="70.1" y1="193.20" x2="84.9" y2="193.20" stroke="#cc1f3a" stroke-width="1.6" stroke-dasharray="1.8,2.2,6.9,2.1,1.9"/>
<circle cx="77.8" cy="193.20" r="1.5" fill="#cc1f3a"/>
<g transform="translate(58.9,204.1) scale(0.95,1)"><text x="0" y="0" font-size="8.0" text-anchor="start" fill="#3c3c3c" font-weight="normal" stroke="#3c3c3c" stroke-width="0.12" >10</text></g>
<line x1="70.1" y1="202.10" x2="84.9" y2="202.10" stroke="#124b88" stroke-width="1.6"/>
<circle cx="77.8" cy="202.10" r="1.5" fill="#124b88"/>
<g transform="translate(58.9,212.4) scale(0.95,1)"><text x="0" y="0" font-size="8.0" text-anchor="start" fill="#3c3c3c" font-weight="normal" stroke="#3c3c3c" stroke-width="0.12" >50</text></g>
<line x1="70.1" y1="210.40" x2="84.9" y2="210.40" stroke="#2fae49" stroke-width="1.6"/>
<circle cx="77.8" cy="210.40" r="1.5" fill="#2fae49"/>
<text x="235.0" y="174.0" font-size="7.4" text-anchor="start" fill="#3c3c3c" font-weight="normal" textLength="32.4" lengthAdjust="spacingAndGlyphs" stroke="#3c3c3c" stroke-width="0.06" >Free VWF</text>
<text x="235.0" y="182.4" font-size="7.4" text-anchor="start" fill="#3c3c3c" font-weight="normal" textLength="22.6" lengthAdjust="spacingAndGlyphs" stroke="#3c3c3c" stroke-width="0.06" >(μg mL</text>
<text x="258.5" y="179.6" font-size="4.6" text-anchor="start" fill="#3c3c3c" font-weight="normal" textLength="3.2" lengthAdjust="spacingAndGlyphs" >-1</text>
<text x="262.0" y="182.4" font-size="7.4" text-anchor="start" fill="#3c3c3c" font-weight="normal" stroke="#3c3c3c" stroke-width="0.2" >)</text>
<g transform="translate(234.8,193.9) scale(0.95,1)"><text x="0" y="0" font-size="8.0" text-anchor="start" fill="#3c3c3c" font-weight="normal" stroke="#3c3c3c" stroke-width="0.12" >0</text></g>
<line x1="246.0" y1="191.90" x2="260.8" y2="191.90" stroke="#cc1f3a" stroke-width="1.6" stroke-dasharray="1.8,2.2,6.9,2.1,1.9"/>
<circle cx="253.7" cy="191.90" r="1.5" fill="#cc1f3a"/>
<g transform="translate(234.8,203.0) scale(0.95,1)"><text x="0" y="0" font-size="8.0" text-anchor="start" fill="#3c3c3c" font-weight="normal" stroke="#3c3c3c" stroke-width="0.12" >10</text></g>
<line x1="246.0" y1="201.00" x2="260.8" y2="201.00" stroke="#124b88" stroke-width="1.6"/>
<circle cx="253.7" cy="201.00" r="1.5" fill="#124b88"/>
<g transform="translate(234.8,211.2) scale(0.95,1)"><text x="0" y="0" font-size="8.0" text-anchor="start" fill="#3c3c3c" font-weight="normal" stroke="#3c3c3c" stroke-width="0.12" >50</text></g>
<line x1="246.0" y1="209.20" x2="260.8" y2="209.20" stroke="#2fae49" stroke-width="1.6"/>
<circle cx="253.7" cy="209.20" r="1.5" fill="#2fae49"/>
<polyline points="58.01,251.20 75.23,244.40 92.45,226.10 109.67,209.60 126.89,207.00 144.11,200.60 161.33,192.40" fill="none" stroke="#cc1f3a" stroke-width="1.7" stroke-dasharray="2.4,2.1" stroke-linejoin="round"/>
<path d="M58.01,247.00V255.40M56.51,247.00H59.51M56.51,255.40H59.51" stroke="#cc1f3a" stroke-width="0.9" fill="none"/>
<circle cx="58.01" cy="251.20" r="1.8" fill="#cc1f3a"/>
<path d="M75.23,238.70V250.10M73.73,238.70H76.73M73.73,250.10H76.73" stroke="#cc1f3a" stroke-width="0.9" fill="none"/>
<circle cx="75.23" cy="244.40" r="1.8" fill="#cc1f3a"/>
<path d="M92.45,223.10V229.10M90.95,223.10H93.95M90.95,229.10H93.95" stroke="#cc1f3a" stroke-width="0.9" fill="none"/>
<circle cx="92.45" cy="226.10" r="1.8" fill="#cc1f3a"/>
<path d="M109.67,206.30V212.90M108.17,206.30H111.17M108.17,212.90H111.17" stroke="#cc1f3a" stroke-width="0.9" fill="none"/>
<circle cx="109.67" cy="209.60" r="1.8" fill="#cc1f3a"/>
<path d="M126.89,203.00V211.00M125.39,203.00H128.39M125.39,211.00H128.39" stroke="#cc1f3a" stroke-width="0.9" fill="none"/>
<circle cx="126.89" cy="207.00" r="1.8" fill="#cc1f3a"/>
<path d="M144.11,197.60V203.60M142.61,197.60H145.61M142.61,203.60H145.61" stroke="#cc1f3a" stroke-width="0.9" fill="none"/>
<circle cx="144.11" cy="200.60" r="1.8" fill="#cc1f3a"/>
<path d="M161.33,187.20V197.60M159.83,187.20H162.83M159.83,197.60H162.83" stroke="#cc1f3a" stroke-width="0.9" fill="none"/>
<circle cx="161.33" cy="192.40" r="1.8" fill="#cc1f3a"/>
<polyline points="58.01,255.40 75.23,244.50 92.45,227.30 109.67,210.40 126.89,202.00 144.11,198.90 161.33,199.50" fill="none" stroke="#124b88" stroke-width="1.6" stroke-linejoin="round"/>
<path d="M58.01,253.40V257.40M56.51,253.40H59.51M56.51,257.40H59.51" stroke="#124b88" stroke-width="0.9" fill="none"/>
<circle cx="58.01" cy="255.40" r="1.8" fill="#124b88"/>
<path d="M75.23,242.50V246.50M73.73,242.50H76.73M73.73,246.50H76.73" stroke="#124b88" stroke-width="0.9" fill="none"/>
<circle cx="75.23" cy="244.50" r="1.8" fill="#124b88"/>
<path d="M92.45,224.30V230.30M90.95,224.30H93.95M90.95,230.30H93.95" stroke="#124b88" stroke-width="0.9" fill="none"/>
<circle cx="92.45" cy="227.30" r="1.8" fill="#124b88"/>
<path d="M109.67,206.80V214.00M108.17,206.80H111.17M108.17,214.00H111.17" stroke="#124b88" stroke-width="0.9" fill="none"/>
<circle cx="109.67" cy="210.40" r="1.8" fill="#124b88"/>
<path d="M126.89,200.00V204.00M125.39,200.00H128.39M125.39,204.00H128.39" stroke="#124b88" stroke-width="0.9" fill="none"/>
<circle cx="126.89" cy="202.00" r="1.8" fill="#124b88"/>
<path d="M144.11,194.60V203.20M142.61,194.60H145.61M142.61,203.20H145.61" stroke="#124b88" stroke-width="0.9" fill="none"/>
<circle cx="144.11" cy="198.90" r="1.8" fill="#124b88"/>
<path d="M161.33,197.00V202.00M159.83,197.00H162.83M159.83,202.00H162.83" stroke="#124b88" stroke-width="0.9" fill="none"/>
<circle cx="161.33" cy="199.50" r="1.8" fill="#124b88"/>
<polyline points="58.01,257.50 75.23,247.80 92.45,237.10 109.67,220.80 126.89,209.60 144.11,208.20 161.33,207.90" fill="none" stroke="#2fae49" stroke-width="1.6" stroke-linejoin="round"/>
<path d="M58.01,255.50V259.50M56.51,255.50H59.51M56.51,259.50H59.51" stroke="#2fae49" stroke-width="0.9" fill="none"/>
<circle cx="58.01" cy="257.50" r="1.8" fill="#2fae49"/>
<path d="M75.23,242.50V253.10M73.73,242.50H76.73M73.73,253.10H76.73" stroke="#2fae49" stroke-width="0.9" fill="none"/>
<circle cx="75.23" cy="247.80" r="1.8" fill="#2fae49"/>
<path d="M92.45,233.00V241.20M90.95,233.00H93.95M90.95,241.20H93.95" stroke="#2fae49" stroke-width="0.9" fill="none"/>
<circle cx="92.45" cy="237.10" r="1.8" fill="#2fae49"/>
<path d="M109.67,216.50V225.10M108.17,216.50H111.17M108.17,225.10H111.17" stroke="#2fae49" stroke-width="0.9" fill="none"/>
<circle cx="109.67" cy="220.80" r="1.8" fill="#2fae49"/>
<path d="M126.89,205.00V214.20M125.39,205.00H128.39M125.39,214.20H128.39" stroke="#2fae49" stroke-width="0.9" fill="none"/>
<circle cx="126.89" cy="209.60" r="1.8" fill="#2fae49"/>
<path d="M144.11,204.30V212.10M142.61,204.30H145.61M142.61,212.10H145.61" stroke="#2fae49" stroke-width="0.9" fill="none"/>
<circle cx="144.11" cy="208.20" r="1.8" fill="#2fae49"/>
<path d="M161.33,206.40V209.40M159.83,206.40H162.83M159.83,209.40H162.83" stroke="#2fae49" stroke-width="0.9" fill="none"/>
<circle cx="161.33" cy="207.90" r="1.8" fill="#2fae49"/>
<polyline points="236.11,247.00 253.33,235.50 270.55,217.50 287.77,198.00 304.99,192.20 322.21,182.70 339.43,180.00" fill="none" stroke="#cc1f3a" stroke-width="1.7" stroke-dasharray="2.4,2.1" stroke-linejoin="round"/>
<path d="M236.11,242.50V251.50M234.61,242.50H237.61M234.61,251.50H237.61" stroke="#cc1f3a" stroke-width="0.9" fill="none"/>
<circle cx="236.11" cy="247.00" r="1.8" fill="#cc1f3a"/>
<path d="M253.33,230.50V240.50M251.83,230.50H254.83M251.83,240.50H254.83" stroke="#cc1f3a" stroke-width="0.9" fill="none"/>
<circle cx="253.33" cy="235.50" r="1.8" fill="#cc1f3a"/>
<path d="M270.55,211.50V223.50M269.05,211.50H272.05M269.05,223.50H272.05" stroke="#cc1f3a" stroke-width="0.9" fill="none"/>
<circle cx="270.55" cy="217.50" r="1.8" fill="#cc1f3a"/>
<path d="M287.77,189.30V206.70M286.27,189.30H289.27M286.27,206.70H289.27" stroke="#cc1f3a" stroke-width="0.9" fill="none"/>
<circle cx="287.77" cy="198.00" r="1.8" fill="#cc1f3a"/>
<path d="M304.99,185.30V199.10M303.49,185.30H306.49M303.49,199.10H306.49" stroke="#cc1f3a" stroke-width="0.9" fill="none"/>
<circle cx="304.99" cy="192.20" r="1.8" fill="#cc1f3a"/>
<path d="M322.21,179.70V185.70M320.71,179.70H323.71M320.71,185.70H323.71" stroke="#cc1f3a" stroke-width="0.9" fill="none"/>
<circle cx="322.21" cy="182.70" r="1.8" fill="#cc1f3a"/>
<path d="M339.43,171.60V188.40M337.93,171.60H340.93M337.93,188.40H340.93" stroke="#cc1f3a" stroke-width="0.9" fill="none"/>
<circle cx="339.43" cy="180.00" r="1.8" fill="#cc1f3a"/>
<polyline points="236.11,244.80 253.33,228.60 270.55,210.80 287.77,197.20 304.99,189.40 322.21,183.40 339.43,185.80" fill="none" stroke="#124b88" stroke-width="1.6" stroke-linejoin="round"/>
<path d="M236.11,242.80V246.80M234.61,242.80H237.61M234.61,246.80H237.61" stroke="#124b88" stroke-width="0.9" fill="none"/>
<circle cx="236.11" cy="244.80" r="1.8" fill="#124b88"/>
<path d="M253.33,225.80V231.40M251.83,225.80H254.83M251.83,231.40H254.83" stroke="#124b88" stroke-width="0.9" fill="none"/>
<circle cx="253.33" cy="228.60" r="1.8" fill="#124b88"/>
<path d="M270.55,207.80V213.80M269.05,207.80H272.05M269.05,213.80H272.05" stroke="#124b88" stroke-width="0.9" fill="none"/>
<circle cx="270.55" cy="210.80" r="1.8" fill="#124b88"/>
<path d="M287.77,195.20V199.20M286.27,195.20H289.27M286.27,199.20H289.27" stroke="#124b88" stroke-width="0.9" fill="none"/>
<circle cx="287.77" cy="197.20" r="1.8" fill="#124b88"/>
<path d="M304.99,186.40V192.40M303.49,186.40H306.49M303.49,192.40H306.49" stroke="#124b88" stroke-width="0.9" fill="none"/>
<circle cx="304.99" cy="189.40" r="1.8" fill="#124b88"/>
<path d="M322.21,178.40V188.40M320.71,178.40H323.71M320.71,188.40H323.71" stroke="#124b88" stroke-width="0.9" fill="none"/>
<circle cx="322.21" cy="183.40" r="1.8" fill="#124b88"/>
<path d="M339.43,183.80V187.80M337.93,183.80H340.93M337.93,187.80H340.93" stroke="#124b88" stroke-width="0.9" fill="none"/>
<circle cx="339.43" cy="185.80" r="1.8" fill="#124b88"/>
<polyline points="236.11,253.20 253.33,236.00 270.55,220.00 287.77,203.90 304.99,191.90 322.21,183.90 339.43,186.40" fill="none" stroke="#2fae49" stroke-width="1.6" stroke-linejoin="round"/>
<path d="M236.11,252.20V254.20M234.61,252.20H237.61M234.61,254.20H237.61" stroke="#2fae49" stroke-width="0.9" fill="none"/>
<circle cx="236.11" cy="253.20" r="1.8" fill="#2fae49"/>
<path d="M253.33,232.00V240.00M251.83,232.00H254.83M251.83,240.00H254.83" stroke="#2fae49" stroke-width="0.9" fill="none"/>
<circle cx="253.33" cy="236.00" r="1.8" fill="#2fae49"/>
<path d="M270.55,213.30V226.70M269.05,213.30H272.05M269.05,226.70H272.05" stroke="#2fae49" stroke-width="0.9" fill="none"/>
<circle cx="270.55" cy="220.00" r="1.8" fill="#2fae49"/>
<path d="M287.77,198.60V209.20M286.27,198.60H289.27M286.27,209.20H289.27" stroke="#2fae49" stroke-width="0.9" fill="none"/>
<circle cx="287.77" cy="203.90" r="1.8" fill="#2fae49"/>
<path d="M304.99,188.90V194.90M303.49,188.90H306.49M303.49,194.90H306.49" stroke="#2fae49" stroke-width="0.9" fill="none"/>
<circle cx="304.99" cy="191.90" r="1.8" fill="#2fae49"/>
<path d="M322.21,181.90V185.90M320.71,181.90H323.71M320.71,185.90H323.71" stroke="#2fae49" stroke-width="0.9" fill="none"/>
<circle cx="322.21" cy="183.90" r="1.8" fill="#2fae49"/>
<path d="M339.43,179.40V193.40M337.93,179.40H340.93M337.93,193.40H340.93" stroke="#2fae49" stroke-width="0.9" fill="none"/>
<circle cx="339.43" cy="186.40" r="1.8" fill="#2fae49"/>
<g transform="translate(16.0,68.6) rotate(-90)"><text x="0" y="0" font-size="9.8" text-anchor="middle" fill="#3c3c3c" stroke="#3c3c3c" stroke-width="0.2" textLength="84.0" lengthAdjust="spacingAndGlyphs">Number of bound GPIbα</text></g>
<g transform="translate(27.8,70.5) rotate(-90)"><text x="0" y="0" font-size="9.8" text-anchor="middle" fill="#3c3c3c" stroke="#3c3c3c" stroke-width="0.2" textLength="76.5" lengthAdjust="spacingAndGlyphs">per μm of tethered VWF</text></g>
<g transform="translate(21.7,221.2) rotate(-90)"><text x="0" y="0" font-size="9.8" text-anchor="middle" fill="#3c3c3c" stroke="#3c3c3c" stroke-width="0.2" textLength="111.2" lengthAdjust="spacingAndGlyphs">Average number of bound GPIbα</text></g>
<g transform="translate(32.5,220.2) rotate(-90)"><text x="0" y="0" font-size="9.8" text-anchor="middle" fill="#3c3c3c" stroke="#3c3c3c" stroke-width="0.2" textLength="117.80000000000001" lengthAdjust="spacingAndGlyphs">per μm of tethered VWF at 1.5-2.5 s</text></g>
<g transform="translate(200.1,220.3) rotate(-90)"><text x="0" y="0" font-size="9.8" text-anchor="middle" fill="#3c3c3c" stroke="#3c3c3c" stroke-width="0.2" textLength="111.10000000000001" lengthAdjust="spacingAndGlyphs">Average number of bound GPIbα</text></g>
<g transform="translate(211.1,220.9) rotate(-90)"><text x="0" y="0" font-size="9.8" text-anchor="middle" fill="#3c3c3c" stroke="#3c3c3c" stroke-width="0.2" textLength="115.5" lengthAdjust="spacingAndGlyphs">per μm of tethered VWF at 27-35 s</text></g>
</g>
<rect x="0.5" y="0.5" width="519" height="292" fill="none" stroke="#1c1c1c" stroke-width="1"/>
</svg></body></html>
